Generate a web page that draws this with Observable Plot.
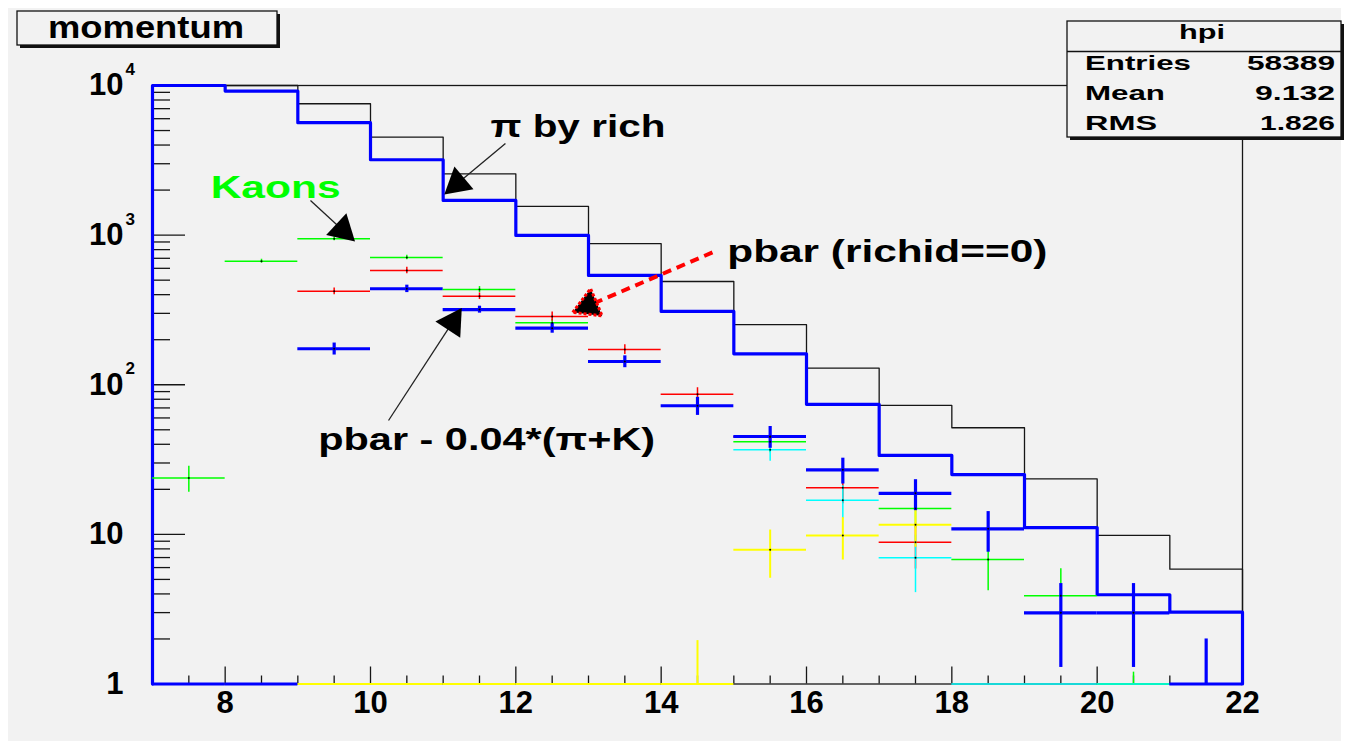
<!DOCTYPE html>
<html>
<head>
<meta charset="utf-8">
<script src="https://cdn.jsdelivr.net/npm/d3@7"></script>
<script src="https://cdn.jsdelivr.net/npm/@observablehq/plot@0.6"></script>
<style>
  html, body { margin: 0; padding: 0; background: #ffffff; }
  #wrap { position: relative; width: 1347px; height: 747px; overflow: hidden; }
  #bg { position: absolute; left: 8px; top: 8px; right: 6px; bottom: 6px; background: #f2f2f2; }
  #chart { position: absolute; left: 0; top: 0; }
</style>
</head>
<body>
<div id="wrap"><div id="bg"></div><div id="chart"></div></div>
<script>
// ---------------- data ----------------
const binEdges = [7, 8, 9, 10, 11, 12, 13, 14, 15, 16, 17, 18, 19, 20, 21, 22];
// black histogram (all tracks) and blue histogram (pi by rich), one value per bin
const allHist  = [12000, 10500, 7550, 4520, 2570, 1556, 877, 490, 252, 129, 72.7, 51.6, 23.5, 9.84, 5.85];
const richHist = [10000, 9180, 5640, 3190, 1706, 995, 538, 309, 161, 74, 33.7, 25.1, 11.1, 3.95, 3.02];

// Kaons (green)
const kaonX   = [7.5, 8.5, 9.5, 10.5, 11.5, 12.5, 15.5, 17.5, 18.5, 19.5, 20.5];
const kaonVal = [23.8, 670, 946, 709, 433, 260, 41.6, 14.9, 6.8, 3.89, 0.5];
const kaonErr = [4.7, 20, 30, 25, 20, 14, 6.5, 3.9, 2.6, 2.0, 0.7];
// pbar (richid==0) (red)
const pbarX   = [9.5, 10.5, 11.5, 12.5, 13.5, 14.5, 15.5, 16.5, 17.5];
const pbarVal = [422, 581, 391, 286, 172, 86.5, 45, 20.5, 8.87];
const pbarErr = [22, 30, 20, 20, 13, 9, 7, 4.5, 3];
// cyan series
const cyanX   = [15.5, 16.5, 17.5, 18.5, 19.5, 20.5];
const cyanVal = [36.8, 16.9, 6.98, 1, 1, 1];
const cyanErr = [6, 4.2, 2.9, 0, 0, 0];
// yellow series
const yellowX   = [9.5, 10.5, 11.5, 12.5, 13.5, 14.5, 15.5, 16.5, 17.5];
const yellowVal = [1, 1, 1, 1, 1, 1, 7.89, 9.84, 11.6];
const yellowErr = [0, 0, 0, 0, 0, 0.95, 2.8, 3.1, 3.4];
// pbar - 0.04*(pi+K) (blue crosses)
const subX   = [7.5, 8.5, 9.5, 10.5, 11.5, 12.5, 13.5, 14.5, 15.5, 16.5, 17.5, 18.5, 19.5, 20.5, 21.5];
const subVal = [1, 1, 174, 438, 318, 239, 143, 72.4, 45.1, 27.0, 18.8, 10.9, 2.99, 2.99, 1];
const subErr = [0, 0, 16, 25, 17, 18, 13, 10, 7.5, 5.3, 4.4, 3.3, 1.7, 1.7, 1];

// axes
const yTickValues = [1, 10, 100, 1000, 10000];
const yTickBase   = ["1", "10", "10", "10", "10"];
const yTickExp    = ["", "", "2", "3", "4"];
const yMinorTicks = [2,3,4,5,6,7,8,9, 20,30,40,50,60,70,80,90, 200,300,400,500,600,700,800,900, 2000,3000,4000,5000,6000,7000,8000,9000];
const xTickValues = [8, 10, 12, 14, 16, 18, 20, 22];
const xTickLabels = ["8", "10", "12", "14", "16", "18", "20", "22"];
const xMinorTicks = [7.5, 8.5, 9, 9.5, 10.5, 11, 11.5, 12.5, 13, 13.5, 14.5, 15, 15.5, 16.5, 17, 17.5, 18.5, 19, 19.5, 20.5, 21, 21.5];

// annotations (data coordinates)
const annLabels = ["π by rich", "Kaons", "pbar (richid==0)", "pbar - 0.04*(π+K)"];
const annTextX  = [11.65, 7.80, 14.91, 9.28];
const annTextY  = [5250, 2050, 766, 42.4];
const annFromX  = [11.857, 9.174, 14.706, 10.248];
const annFromY  = [4100, 1706, 766, 57.7];
const annHeadX  = [11.196, 9.615, 13.0, 11.128];
const annHeadY  = [2217, 1083, 338, 261];

// boxes
const titleText   = "momentum";
const statsTitle  = "hpi";
const statsLabels = ["Entries", "Mean", "RMS"];
const statsValues = ["58389", "9.132", "1.826"];

// ---------------- build ----------------
const W = 1347, H = 747;
const mL = 152, mR = 105, mT = 85, mB = 63.5;
const FW = W - mL - mR, FH = H - mT - mB;
const yMin = yTickValues[0];
const FONT = "Liberation Sans, Arial, Helvetica, sans-serif";
const INK = "#161616";

function stepPoints(vals) {
  const n = vals.length;
  const pts = [{x: binEdges[0], y: yMin}];
  vals.forEach((v, i) => pts.push({x: binEdges[i], y: v}));
  pts.push({x: binEdges[n], y: vals[n - 1]});
  pts.push({x: binEdges[n], y: yMin});
  return pts;
}
function rows(xs, vs, es) {
  return xs.map((x, i) => ({x, v: vs[i], lo: Math.max(vs[i] - es[i], yMin * 0.5), hi: vs[i] + es[i]}));
}
const halfBin = (binEdges[1] - binEdges[0]) / 2;
function crossMarks(data, color, sw) {
  return [
    Plot.ruleY(data, {y: "v", x1: d => d.x - halfBin, x2: d => d.x + halfBin, stroke: color, strokeWidth: sw}),
    Plot.ruleX(data.filter(d => d.hi > d.lo), {x: "x", y1: "lo", y2: "hi", stroke: color, strokeWidth: sw})
  ];
}

const kaons = rows(kaonX, kaonVal, kaonErr);
const pbar = rows(pbarX, pbarVal, pbarErr);
const cyan = rows(cyanX, cyanVal, cyanErr);
const yellow = rows(yellowX, yellowVal, yellowErr);
const sub = rows(subX, subVal, subErr);

const ann = annLabels.map((label, i) => {
  return {label, tx: annTextX[i], ty: annTextY[i], fx: annFromX[i], fy: annFromY[i], hx: annHeadX[i], hy: annHeadY[i]};
});
const annRot = [-130, 133, -113, 33];
ann.forEach((d, i) => d.rot = annRot[i]);

const yLab = yTickValues.map((v, i) => ({v, base: yTickBase[i], exp: yTickExp[i]}));
const xLab = xTickValues.map((v, i) => ({v, label: xTickLabels[i]}));

const chart = Plot.plot({
  width: W, height: H,
  marginLeft: mL, marginRight: mR, marginTop: mT, marginBottom: mB,
  x: {domain: [binEdges[0], binEdges[binEdges.length - 1]], axis: null},
  y: {type: "log", domain: [yTickValues[0], yTickValues[yTickValues.length - 1]], clamp: true, axis: null},
  style: {background: "transparent", overflow: "visible", fontFamily: FONT},
  marks: [
    Plot.frame({stroke: INK, strokeWidth: 1.3}),
    Plot.tickY(yTickValues, {y: d => d, stroke: INK, strokeWidth: 1.3, insetRight: FW - 33}),
    Plot.tickY(yMinorTicks, {y: d => d, stroke: INK, strokeWidth: 1.3, insetRight: FW - 18}),
    Plot.tickX(xTickValues, {x: d => d, stroke: INK, strokeWidth: 1.3, insetTop: FH - 17}),
    Plot.tickX(xMinorTicks, {x: d => d, stroke: INK, strokeWidth: 1.3, insetTop: FH - 8}),
    Plot.line(stepPoints(allHist), {x: "x", y: "y", curve: "step-after", stroke: INK, strokeWidth: 1.3}),
    Plot.line(stepPoints(richHist), {x: "x", y: "y", curve: "step-after", stroke: "#0000ff", strokeWidth: 3.2}),
    ...crossMarks(kaons, "#00ff00", 1.5),
    ...crossMarks(pbar, "#ff0000", 1.5),
    ...crossMarks(cyan, "#00ffff", 1.5),
    ...crossMarks(yellow, "#ffff00", 2),
    ...crossMarks(sub, "#0000ff", 3.2),
    Plot.dot([...kaons, ...pbar, ...cyan, ...yellow, ...sub].filter(d => d.v > yMin), {x: "x", y: "v", r: 1, fill: "#000", stroke: "none"}),
    // annotation arrows
    Plot.link(ann.filter((d, i) => i !== 2), {x1: "fx", y1: "fy", x2: "hx", y2: "hy", stroke: "#222", strokeWidth: 1.3}),
    Plot.link(ann.filter((d, i) => i === 2), {x1: "fx", y1: "fy", x2: "hx", y2: "hy", stroke: "#ff0000", strokeWidth: 4, strokeDasharray: "9,6"}),
    Plot.dot(ann.filter((d, i) => i !== 2), {x: "hx", y: "hy", symbol: "triangle", r: 11, fill: "#000", stroke: "none", rotate: "rot"}),
    Plot.dot(ann.filter((d, i) => i === 2), {x: "hx", y: "hy", symbol: "triangle", r: 11, fill: "#000", stroke: "#ff0000", strokeWidth: 3, strokeDasharray: "3,2", rotate: "rot"}),
    Plot.text(ann.filter(d => d.label !== "Kaons"), {x: "tx", y: "ty", text: "label", textAnchor: "start", fontSize: 31, fontWeight: "bold", fontFamily: FONT, fill: "#000"}),
    Plot.text(ann.filter(d => d.label === "Kaons"), {x: "tx", y: "ty", text: "label", textAnchor: "start", fontSize: 31, fontWeight: "bold", fontFamily: FONT, fill: "#00ff00"}),
    // axis labels
    Plot.text(yLab, {x: () => binEdges[0], y: "v", text: "base", textAnchor: "end", dx: -29, fontSize: 31, fontWeight: "bold", fontFamily: FONT, fill: "#000"}),
    Plot.text(yLab, {x: () => binEdges[0], y: "v", text: "exp", textAnchor: "start", dx: -27, dy: -16, fontSize: 17, fontWeight: "bold", fontFamily: FONT, fill: "#000"}),
    Plot.text(xLab, {x: "v", y: () => yMin, text: "label", dy: 19, fontSize: 31, fontWeight: "bold", fontFamily: FONT, fill: "#000"})
  ]
});
document.getElementById("chart").appendChild(chart);

const svg = d3.select(chart);
const widths = {"π by rich": 175, "Kaons": 130, "pbar (richid==0)": 320, "pbar - 0.04*(π+K)": 337};
svg.selectAll("text").each(function () {
  const w = widths[this.textContent];
  if (w) d3.select(this).attr("textLength", w).attr("lengthAdjust", "spacingAndGlyphs");
});

// title box
const g = svg.append("g").attr("font-family", FONT).attr("font-weight", "bold").attr("text-anchor", "start").attr("fill", "#000");
function box(x, y, w, h) {
  g.append("rect").attr("x", x + 3).attr("y", y + 3).attr("width", w).attr("height", h).attr("fill", "#111");
  g.append("rect").attr("x", x).attr("y", y).attr("width", w).attr("height", h).attr("fill", "#f2f2f2").attr("stroke", "#111").attr("stroke-width", 1.3);
}
box(17, 11, 260, 34);
g.append("text").attr("x", 48).attr("y", 38).attr("font-size", 31).attr("textLength", 196).attr("lengthAdjust", "spacingAndGlyphs").text(titleText);

// stats box
box(1067, 21, 274, 116);
g.append("line").attr("x1", 1067).attr("x2", 1341).attr("y1", 51.5).attr("y2", 51.5).attr("stroke", "#111").attr("stroke-width", 1.3);
g.append("text").attr("x", 1179).attr("y", 39).attr("font-size", 21).attr("textLength", 46).attr("lengthAdjust", "spacingAndGlyphs").text(statsTitle);
const labelW = [106, 80, 72];
const valueW = [88, 80, 75];
statsLabels.forEach((s, i) => {
  const yb = 70 + i * 30;
  g.append("text").attr("x", 1085).attr("y", yb).attr("font-size", 21).attr("textLength", labelW[i]).attr("lengthAdjust", "spacingAndGlyphs").text(s);
  g.append("text").attr("x", 1335 - valueW[i]).attr("y", yb).attr("font-size", 21).attr("textLength", valueW[i]).attr("lengthAdjust", "spacingAndGlyphs").text(statsValues[i]);
});
</script>
</body>
</html>
